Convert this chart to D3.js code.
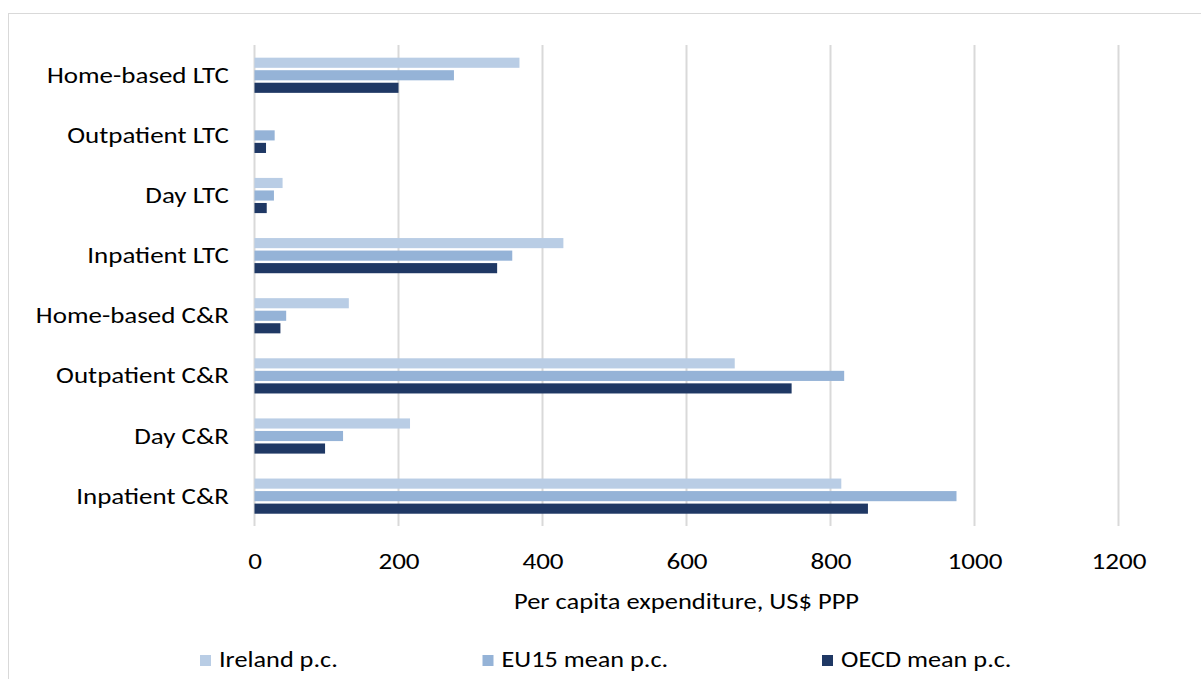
<!DOCTYPE html>
<html>
<head>
<meta charset="utf-8">
<script src="https://cdn.jsdelivr.net/npm/d3@7"></script>
<style>
  html, body { margin: 0; padding: 0; background: #fff; }
  svg { display: block; }
  text { font-family: Carlito, "Open Sans", Lato, sans-serif; fill: #000; }
</style>
</head>
<body>
<svg id="chart" width="1201" height="679"></svg>
<script>
const categories = ["Home-based LTC","Outpatient LTC","Day LTC","Inpatient LTC","Home-based C&R","Outpatient C&R","Day C&R","Inpatient C&R"];
const seriesNames = ["Ireland p.c.","EU15 mean p.c.","OECD mean p.c."];
const ireland = [368, 0, 39, 429, 131, 667, 216, 815];
const eu15    = [277, 28, 27, 358, 44, 819, 123, 975];
const oecd    = [200, 16, 17, 337, 36, 746, 98, 852];
const xTicks  = [0, 200, 400, 600, 800, 1000, 1200];
const colors  = ["#B9CDE5", "#95B3D7", "#1F3864"];
const xTitle  = "Per capita expenditure, US$ PPP";

const series = [ireland, eu15, oecd];
const svg = d3.select("#chart");

// frame
svg.append("rect").attr("x", 8.5).attr("y", 13.5).attr("width", 1250).attr("height", 700)
  .attr("fill", "none").attr("stroke", "#d9d9d9").attr("stroke-width", 1);

const plotTop = 45, plotBottom = 526;
const x = d3.scaleLinear().domain([0, 1200]).range([254.5, 1118.5]);
const y = d3.scaleBand().domain(categories).range([plotTop, plotBottom]).paddingInner(0.375).paddingOuter(0.1875);
const ySub = d3.scaleBand().domain([0,1,2]).range([0, y.bandwidth()]);

// gridlines
svg.append("g").selectAll("line").data(xTicks).join("line")
  .attr("x1", d => x(d)).attr("x2", d => x(d))
  .attr("y1", plotTop).attr("y2", plotBottom)
  .attr("stroke", "#d9d9d9").attr("stroke-width", 2);

// bars
const g = svg.append("g");
series.forEach((vals, si) => {
  g.selectAll(null).data(categories).join("rect")
    .attr("x", x(0))
    .attr("y", (c) => y(c) + ySub(si) + 1.4)
    .attr("width", (c, i) => Math.max(0, x(vals[i]) - x(0)))
    .attr("height", ySub.bandwidth() - 2.4)
    .attr("fill", colors[si]);
});

const FONT = "Carlito, 'Open Sans', Lato, sans-serif";

// horizontal stretch factor so the sans font matches the reference's text widths
const probe = svg.append("text").style("font-size", "22.4px").style("font-family", FONT).text(categories[0]);
const measured = probe.node().getComputedTextLength();
probe.remove();
const f = measured > 0 ? 182 / measured : 1;

// x axis tick labels
const xAxis = d3.axisBottom(x).tickValues(xTicks).tickSize(0).tickPadding(0).tickFormat(d3.format("d"));
const xg = svg.append("g").attr("transform", `translate(0, ${plotBottom})`).call(xAxis);
xg.select(".domain").remove();
xg.selectAll("text").attr("dy", null).attr("y", 43).style("font-size", "22.5px")
  .style("font-family", FONT).attr("fill", "#000").attr("transform", `scale(${f},1)`);

// y axis labels
const yAxis = d3.axisLeft(y).tickSize(0).tickPadding(0);
const yg = svg.append("g").attr("transform", `translate(229, 0)`).call(yAxis);
yg.select(".domain").remove();
yg.selectAll("text").attr("dy", null).attr("y", 7.8).style("font-size", "22.4px")
  .style("font-family", FONT).attr("fill", "#000").attr("transform", `scale(${f},1)`);

// axis title
svg.append("g").attr("transform", `translate(${(x(0) + x(1200)) / 2}, 609) scale(${f},1)`)
  .append("text").attr("text-anchor", "middle").style("font-size", "22px").text(xTitle);

// legend
const legendX = [200, 482.5, 822];
const lg = svg.append("g");
seriesNames.forEach((name, i) => {
  lg.append("rect").attr("x", legendX[i]).attr("y", 655).attr("width", 11).attr("height", 11).attr("fill", colors[i]);
  lg.append("g").attr("transform", `translate(${legendX[i] + 19}, 667) scale(${f},1)`)
    .append("text").style("font-size", "21.8px").text(name);
});
</script>
</body>
</html>
